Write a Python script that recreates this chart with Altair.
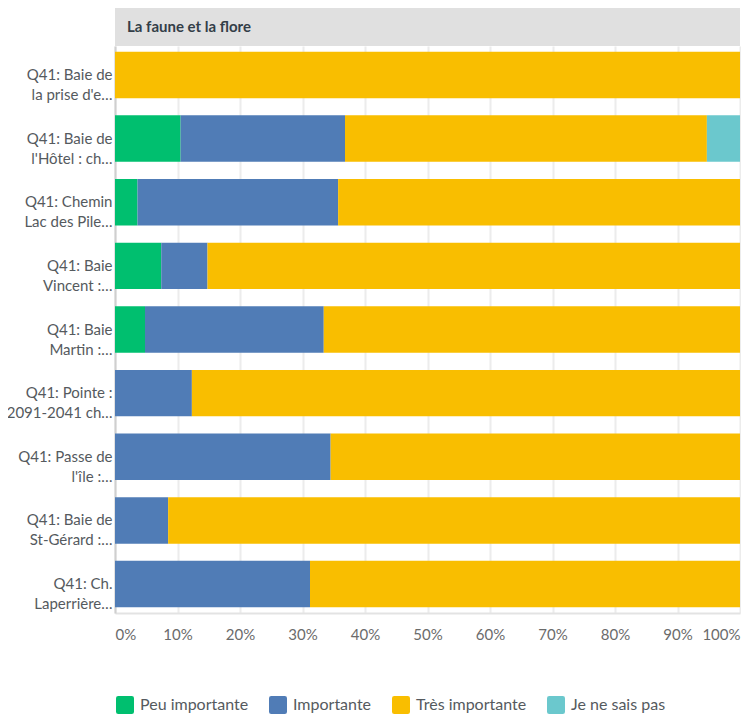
import altair as alt
import pandas as pd

categories = [
    "Q41: Baie de|la prise d'e…",
    "Q41: Baie de|l'Hôtel : ch…",
    "Q41: Chemin|Lac des Pile…",
    "Q41: Baie|Vincent :…",
    "Q41: Baie|Martin :…",
    "Q41: Pointe :|2091-2041 ch…",
    "Q41: Passe de|l'île :…",
    "Q41: Baie de|St-Gérard :…",
    "Q41: Ch.|Laperrière…",
]
series = ["Peu importante", "Importante", "Très importante", "Je ne sais pas"]
peu = [0, 10.5, 3.6, 7.4, 4.8, 0, 0, 0, 0]
imp = [0, 26.3, 32.1, 7.4, 28.6, 12.3, 34.5, 8.5, 31.2]
tres = [100, 57.9, 64.3, 85.2, 66.6, 87.7, 65.5, 91.5, 68.8]
nsp = [0, 5.3, 0, 0, 0, 0, 0, 0, 0]
colors = ["#00BF6F", "#507CB6", "#F9BE00", "#6BC8CD"]
panel_title = "La faune et la flore"
x_ticks = [0, 10, 20, 30, 40, 50, 60, 70, 80, 90, 100]

rows = []
for si, (name, vals) in enumerate(zip(series, [peu, imp, tres, nsp])):
    for c, v in zip(categories, vals):
        rows.append({"cat": c, "serie": name, "val": v, "ord": si})
df = pd.DataFrame(rows)

FONT = "Lato"
W, H = 625, 567

bars = alt.Chart(df).mark_bar().encode(
    y=alt.Y("cat:N", sort=categories,
            scale=alt.Scale(paddingInner=0.27, paddingOuter=0.09),
            axis=alt.Axis(title=None, labelExpr="split(datum.label, '|')",
                          labelFont=FONT, labelFontSize=15, labelColor="#555a5e",
                          labelLineHeight=20, labelPadding=3, ticks=False,
                          domainColor="#cfcfcf", domainWidth=2, grid=False,
                          labelLimit=200)),
    x=alt.X("val:Q", stack="zero",
            scale=alt.Scale(domain=[0, 100], nice=False),
            axis=alt.Axis(title=None, values=x_ticks, labelExpr="datum.value + '%'",
                          labelFont=FONT, labelFontSize=15, labelColor="#6b6b6b",
                          labelPadding=14, ticks=False, labelFlush=True,
                          grid=True, gridColor="#ececec", gridWidth=2,
                          domainColor="#e3e3e3", domainWidth=2)),
    color=alt.Color("serie:N", sort=series,
                    scale=alt.Scale(domain=series, range=colors),
                    legend=alt.Legend(title=None, orient="none", direction="horizontal",
                                      legendX=1, legendY=650,
                                      symbolType="M-1,-0.75Q-1,-1,-0.75,-1L0.75,-1Q1,-1,1,-0.75L1,0.75Q1,1,0.75,1L-0.75,1Q-1,1,-1,0.75Z",
                                      symbolSize=324, symbolStrokeWidth=0,
                                      labelFont=FONT, labelFontSize=16, labelColor="#555a5e",
                                      labelOffset=6, columnPadding=20)),
    order=alt.Order("ord:Q"),
)

hdr = pd.DataFrame({"t": [panel_title]})
header_bg = alt.Chart(hdr).mark_rect(color="#e0e0e0").encode(
    x=alt.value(0), x2=alt.value(W), y=alt.value(-38), y2=alt.value(0)
)
header_txt = alt.Chart(hdr).mark_text(
    align="left", baseline="middle", font=FONT, fontSize=15, fontWeight="bold",
    color="#333e48"
).encode(x=alt.value(12), y=alt.value(-19), text="t:N")

chart = alt.layer(bars, header_bg, header_txt).properties(
    width=W, height=H,
    autosize=alt.AutoSizeParams(type="none"),
    padding={"left": 107, "top": 38, "right": 1, "bottom": 104},
).configure_view(stroke=None)

chart.save("out.html", embed_options={"renderer": "svg", "actions": False})
